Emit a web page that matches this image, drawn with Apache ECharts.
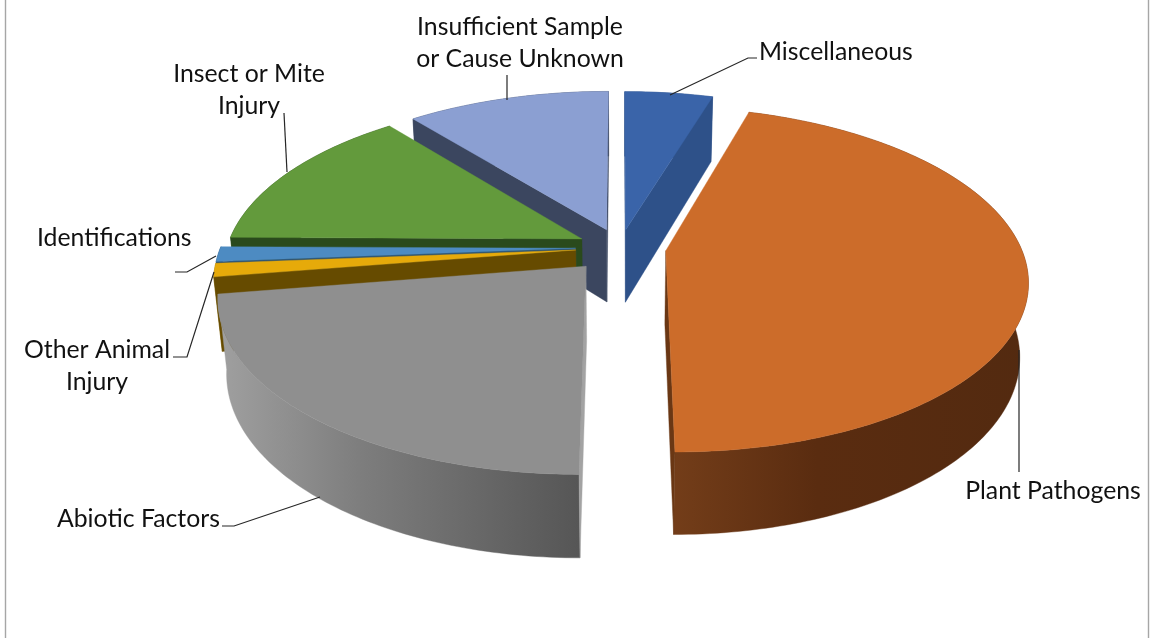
<!DOCTYPE html>
<html>
<head>
<meta charset="utf-8">
<style>html,body{margin:0;padding:0;background:#fff}#chart{width:1151px;height:638px}</style>
<script src="https://cdn.jsdelivr.net/npm/echarts@6/dist/echarts.min.js"></script>
</head>
<body>
<div id="chart"></div>
<script>
// Share of diagnosed samples per category, clockwise from twelve o'clock.
const categories = ['Miscellaneous', 'Plant Pathogens', 'Abiotic Factors', 'Other Animal Injury',
  'Identifications', 'Insect or Mite Injury', 'Insufficient Sample or Cause Unknown'];
const shares = [4.7, 45.3, 22.5, 1.25, 1.4, 14.0, 10.85];

// How far each slice is pulled out of the pie, in pie radii.
const explodeBy = [0.108, 0.13, 0.145, 0.125, 0.125, 0.12, 0.115];

// Face colours for each slice.
const topColors = ['#3a64a9', '#cc6c2a', '#8f8f8f', '#e6aa0a', '#4d8bc2', '#639a3c', '#8b9fd2'];
const cutColors = ['#2e5189', '#6a3714', '#a3a3a3', '#664b00', '#2c5270', '#2a4a1c', '#3b465f'];
const wallColors = [
  ['#2e5189', '#2e5189', '#2e5189'],
  ['#733d19', '#5a2c10', '#532a10'],
  ['#a0a0a0', '#7d7d7d', '#565656'],
  ['#8a6a10', '#8a6a10', '#8a6a10'],
  ['#2c5270', '#2c5270', '#2c5270'],
  ['#2a4a1c', '#2a4a1c', '#2a4a1c'],
  ['#3b465f', '#3b465f', '#3b465f']
];

// Label text lines, anchor and leader line for each slice.
const labelSpecs = [
  { lines: ['Miscellaneous'], x: 759, y: 52, align: 'left', leader: [[670, 95], [748, 58], [757, 58]] },
  { lines: ['Plant Pathogens'], x: 1053, y: 491, align: 'center', leader: [[1019, 350], [1019, 472]] },
  { lines: ['Abiotic Factors'], x: 57, y: 519, align: 'left', leader: [[320, 497], [234, 526], [222, 526]] },
  { lines: ['Other Animal', 'Injury'], x: 97, y: 350, align: 'center', leader: [[214, 272], [187, 357], [173, 357]] },
  { lines: ['Identifications'], x: 37, y: 238, align: 'left', leader: [[216, 256], [187, 272], [175, 272]] },
  { lines: ['Insect or Mite', 'Injury'], x: 249, y: 74, align: 'center', leader: [[287, 172], [284, 113]] },
  { lines: ['Insufficient Sample', 'or Cause Unknown'], x: 520, y: 27, align: 'center', leader: [[507, 100], [507, 75]] }
];

// Perspective camera and pie proportions (pie radius = 1).
const view = { cx: 620, cy: 247.5, focal: 1889, dist: 5.32, tilt: 28 * Math.PI / 180 };
const pieHeight = 0.238;
const lineHeight = 32;

const sinT = Math.sin(view.tilt), cosT = Math.cos(view.tilt);
const camera = [0, -view.dist * cosT, view.dist * sinT];
const total = shares.reduce((a, b) => a + b, 0);

function project(x, y, z) {
  const depth = view.dist + y * cosT - z * sinT;
  return [view.cx + view.focal * x / depth, view.cy - view.focal * (y * sinT + z * cosT) / depth];
}

function sliceFaces(index, value) {
  const start = shares.slice(0, index).reduce((a, b) => a + b, 0) / total * 2 * Math.PI;
  const end = start + value / total * 2 * Math.PI;
  const mid = (start + end) / 2;
  const ox = explodeBy[index] * Math.sin(mid), oy = explodeBy[index] * Math.cos(mid);
  const h = pieHeight;
  const rim = (a, z) => project(ox + Math.sin(a), oy + Math.cos(a), z);
  const steps = Math.max(4, Math.ceil((end - start) / (Math.PI / 180)));
  const topArc = [], bottomArc = [];
  for (let i = 0; i <= steps; i++) {
    const a = start + (end - start) * i / steps;
    topArc.push(rim(a, 0));
    bottomArc.push(rim(a, -h));
  }
  const apexTop = project(ox, oy, 0), apexBottom = project(ox, oy, -h);
  const faces = [];
  const xs = topArc.map(p => p[0]);
  faces.push({
    points: topArc.concat(bottomArc.slice().reverse()),
    fill: new echarts.graphic.LinearGradient(Math.min(...xs), 0, Math.max(...xs), 0, [
      { offset: 0, color: wallColors[index][0] },
      { offset: 0.4, color: wallColors[index][1] },
      { offset: 1, color: wallColors[index][2] }
    ], true)
  });
  const faceVisible = (nx, ny) => nx * (camera[0] - ox) + ny * (camera[1] - oy) > 0;
  if (faceVisible(-Math.cos(start), Math.sin(start))) {
    faces.push({ points: [apexTop, topArc[0], bottomArc[0], apexBottom], fill: cutColors[index] });
  }
  if (faceVisible(Math.cos(end), -Math.sin(end))) {
    faces.push({ points: [apexTop, topArc[steps], bottomArc[steps], apexBottom], fill: cutColors[index] });
  }
  faces.push({ points: [apexTop].concat(topArc), fill: topColors[index] });
  return { faces, depthRank: Math.round(100 - 100 * Math.cos(mid)) };
}

function renderSlice(params, api) {
  const index = params.dataIndex;
  const { faces, depthRank } = sliceFaces(index, api.value(0));
  const children = faces.map((f, i) => ({
    type: 'polygon',
    z2: depthRank * 10 + i,
    shape: { points: f.points },
    style: { fill: f.fill, stroke: f.fill, lineWidth: 0.4 }
  }));
  const spec = labelSpecs[index];
  children.push({
    type: 'polyline',
    z2: 5000,
    shape: { points: spec.leader },
    style: { fill: 'none', stroke: '#262626', lineWidth: 1.2 }
  });
  spec.lines.forEach((line, i) => {
    children.push({
      type: 'text',
      z2: 5001,
      style: {
        x: spec.x, y: spec.y + i * lineHeight, text: line, align: spec.align, verticalAlign: 'middle',
        fill: '#111', font: '24.8px Lato, "Open Sans", sans-serif'
      }
    });
  });
  return { type: 'group', children };
}

const chart = echarts.init(document.getElementById('chart'), null, { renderer: 'canvas' });
chart.setOption({
  animation: false,
  backgroundColor: '#ffffff',
  graphic: [
    { type: 'line', shape: { x1: 5.5, y1: 0, x2: 5.5, y2: 638 }, style: { stroke: '#a6a6a6', lineWidth: 1.4 } },
    { type: 'line', shape: { x1: 1148.5, y1: 0, x2: 1148.5, y2: 638 }, style: { stroke: '#a6a6a6', lineWidth: 1.4 } }
  ],
  series: [{
    type: 'custom',
    coordinateSystem: 'none',
    silent: true,
    clip: false,
    renderItem: renderSlice,
    data: shares.map((v, i) => ({ name: categories[i], value: [v] }))
  }]
});
</script>
</body>
</html>
